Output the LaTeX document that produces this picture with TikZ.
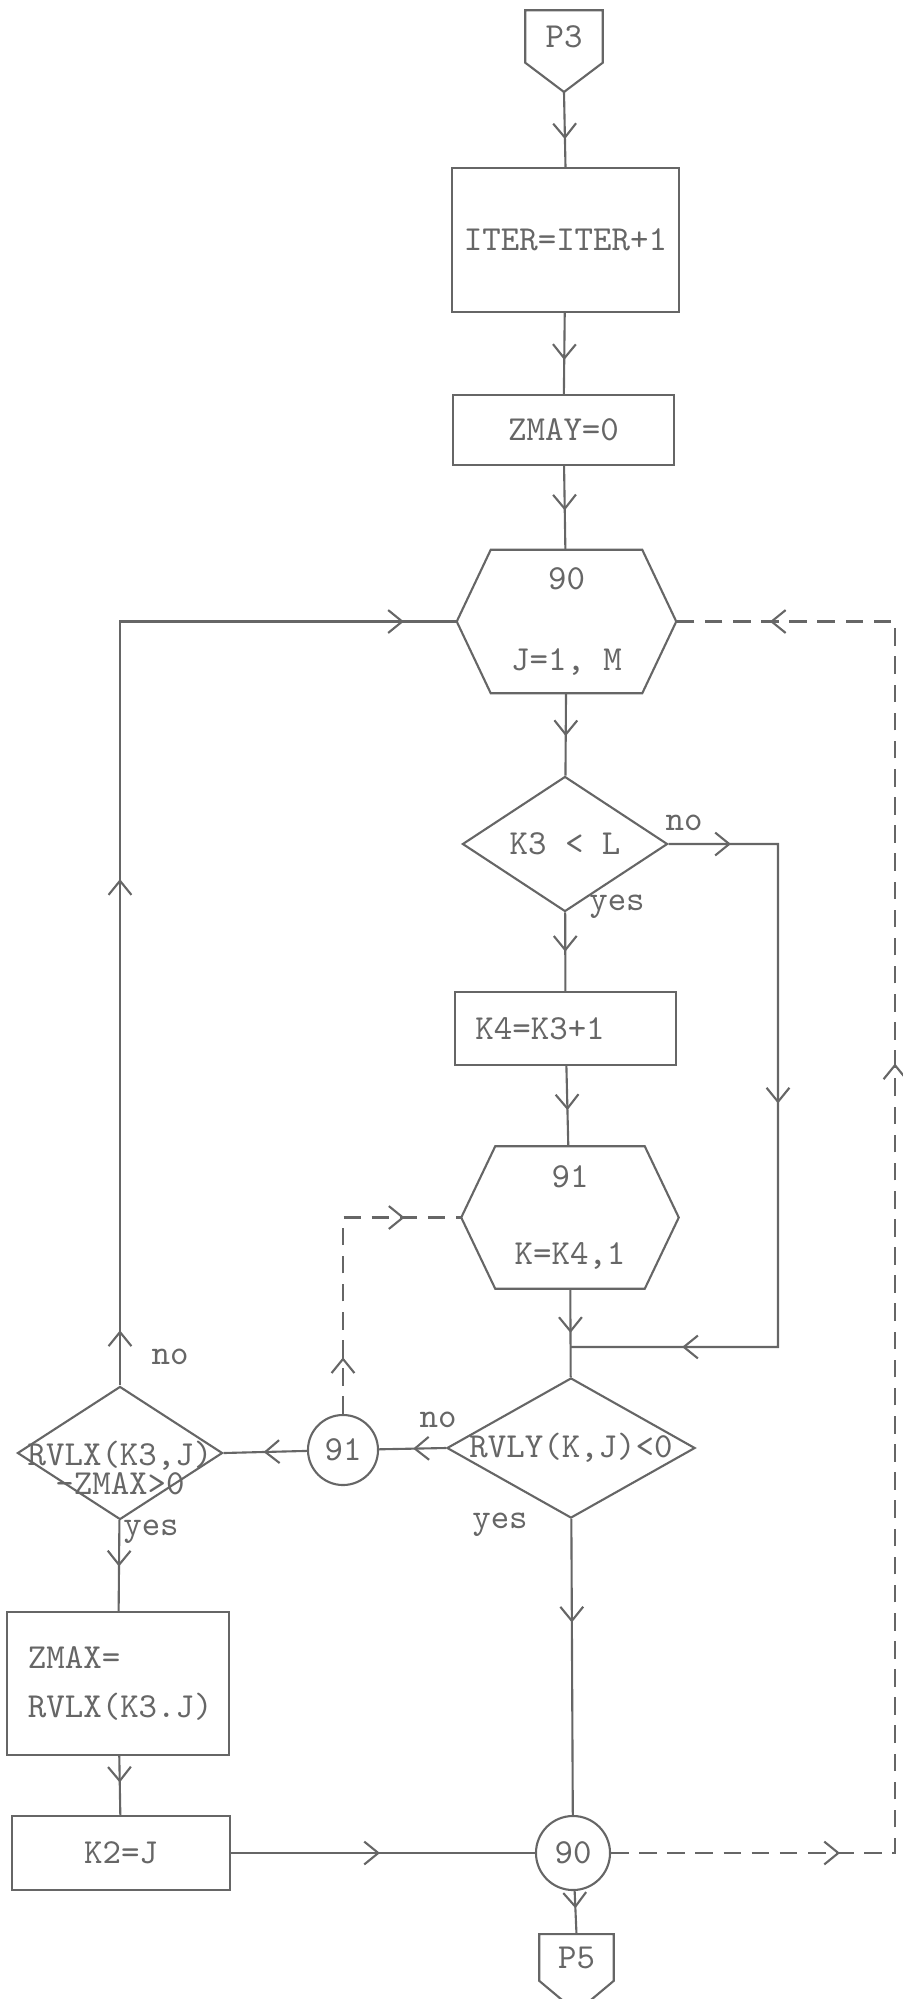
\documentclass[tikz,border=0pt]{standalone}
\usepackage{fontspec}
\usetikzlibrary{shapes.geometric,calc,decorations.markings,arrows.meta}
\definecolor{ink}{gray}{0.4}

\begin{document}
\begin{tikzpicture}[x=0.01cm,y=-0.01cm,>={Straight Barb[length=4pt,width=6.5pt]},
  every node/.style={font=\fontsize{10}{12}\selectfont\ttfamily,text=ink},
  inkline/.style={draw=ink,line width=0.6pt},
  box/.style={rectangle,inkline,minimum width=2.21cm},
  lbox/.style={box,align=left,text width=1.8cm,inner xsep=0.2cm},
  hexa/.style={minimum width=2.18cm,minimum height=1.42cm,align=center},
  cond/.style={diamond,inkline,inner sep=0pt},
  conn/.style={circle,inkline,inner sep=0pt},
  flow/.style={postaction={decorate,decoration={markings,mark=at position #1 with {\arrow{>}}}}},
  dashback/.style={dash pattern=on 5pt off 3pt}]
\useasboundingbox (0,0) rectangle (903,1999);

\node[minimum width=0.76cm,minimum height=0.51cm] (p3) at (564,36.5) {P3};
\coordinate (p3tip) at (564,92);
\draw[inkline] (p3.north west) -- (p3.north east) -- (p3.south east) -- (p3tip) -- (p3.south west) -- cycle;

\node[box,minimum height=1.44cm] (iter) at (565.5,240) {ITER=ITER+1};
\node[box,minimum height=0.70cm] (zmay) at (563.5,430) {ZMAY=0};
\node[hexa] (h90) at (566.5,621.5) {90\\[11pt]J=1, M};
\node[cond,minimum width=2.05cm,minimum height=1.35cm,label=center:{K3 < L}] (d1) at (565,844) {};
\node[lbox,minimum height=0.73cm] (k4) at (565.5,1028.5) {K4=K3+1};
\node[hexa,minimum width=2.16cm,minimum height=1.41cm] (h91) at (570,1217.5) {91\\[10pt]K=K4,1};
\node[cond,minimum width=2.48cm,minimum height=1.40cm,label=center:{RVLY(K,J)<0}] (d2) at (571,1448) {};
\node[conn,minimum size=0.70cm] (c91) at (343,1450) {91};
\node[cond,minimum width=2.05cm,minimum height=1.33cm,label={[align=center,yshift=-0.15cm]center:{RVLX(K3,J)\\[-3.5pt]-ZMAX>0}}] (d3) at (120,1453) {};
\node[lbox,minimum height=1.43cm] (zmax) at (118,1683.5) {ZMAX=\\[1.7pt]RVLX(K3.J)};
\node[box,minimum width=2.18cm,minimum height=0.74cm] (k2) at (121,1853) {K2=J};
\node[conn,minimum size=0.74cm] (c90) at (573,1853) {90};
\node[minimum width=0.73cm,minimum height=0.45cm] (p5) at (576.5,1957.5) {P5};
\coordinate (p5tip) at (576.5,2012);
\draw[inkline] (p5.north west) -- (p5.north east) -- (p5.south east) -- (p5tip) -- (p5.south west) -- cycle;

\foreach \h in {h90,h91}
  \draw[inkline] ($(\h.north west)+(34,0)$) -- ($(\h.north east)+(-34,0)$) -- (\h.east)
    -- ($(\h.south east)+(-34,0)$) -- ($(\h.south west)+(34,0)$) -- (\h.west) -- cycle;

\node (no1) at (684,823) {no};
\node (yes1) at (617,907) {yes};
\node (no2) at (438,1420) {no};
\node (yes2) at (500,1525) {yes};
\node (no3) at (170,1357) {no};
\node (yes3) at (151,1532) {yes};

\coordinate (r1) at (778,1347);
\coordinate (j1) at ($(h91.south)!0.66!(d2.north)$);
\coordinate (r2) at (895,621.5);

\draw[inkline,flow=0.63] (p3tip) -- (iter.north);
\draw[inkline,flow=0.58] (iter) -- (zmay);
\draw[inkline,flow=0.53] (zmay) -- (h90);
\draw[inkline,flow=0.52] (h90) -- (d1);
\draw[inkline,flow=0.5] (d1) -- (k4);
\draw[inkline,flow=0.55] (k4) -- (h91);
\draw[inkline,flow=0.5] (h91) -- (d2);
\draw[inkline,flow=0.076,flow=0.45,flow=0.864] (d1.east) -| (r1) -- (j1);
\draw[inkline,flow=0.49] (d2.west) -- (c91);
\draw[inkline,flow=0.52] (c91) -- (d3.east);
\draw[inkline,dashback,flow=0.18,flow=0.82] (c91) |- (h91.west);
\draw[inkline,flow=0.05,flow=0.46,flow=0.952] (d3.north) |- (h90.west);
\draw[inkline,flow=0.51] (d3) -- (zmax);
\draw[inkline,flow=0.45] (zmax) -- (k2);
\draw[inkline,flow=0.49] (k2) -- (c90);
\draw[inkline,flow=0.35] (d2) -- (c90);
\draw[inkline,dashback,flow=0.132,flow=0.619,flow=0.946] (c90) -| (r2) -- (h90.east);
\draw[inkline,flow=0.4] (c90) -- (p5.north);
\end{tikzpicture}
\end{document}
